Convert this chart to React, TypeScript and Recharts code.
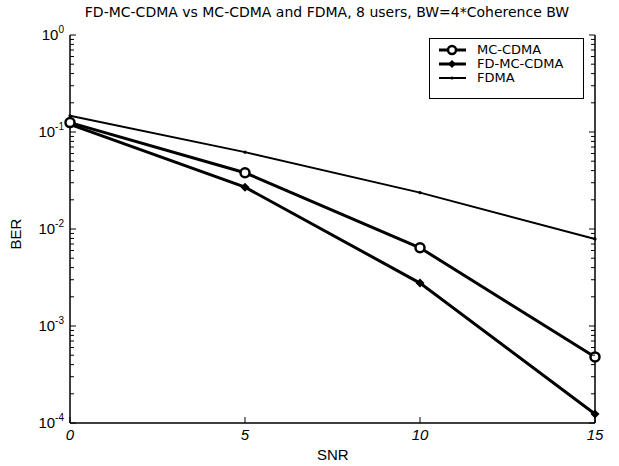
import { LineChart, Line, XAxis, YAxis } from "recharts"

const snr = [0, 5, 10, 15]
const mcCdma = [0.125, 0.038, 0.0064, 0.00048]
const fdMcCdma = [0.12, 0.027, 0.00277, 0.000124]
const fdma = [0.147, 0.062, 0.0237, 0.0079]

const xTicks = [0, 5, 10, 15]
const decadeExps = [-4, -3, -2, -1, 0]

const data = snr.map((s, i) => ({
  snr: s,
  mc: mcCdma[i],
  fd: fdMcCdma[i],
  fdma: fdma[i],
}))

// minor log ticks 2..9 inside each decade
const yTicks: number[] = []
decadeExps.forEach((e) => {
  if (e === 0) {
    yTicks.push(1)
    return
  }
  for (let m = 1; m < 10; m++) yTicks.push(Number((m * Math.pow(10, e)).toPrecision(3)))
})

const FONT = "'Liberation Sans', Arial, sans-serif"
const WIDE = "'DejaVu Sans', sans-serif"

const isDecade = (v: number) => decadeExps.some((e) => Math.abs(v - Math.pow(10, e)) < Math.pow(10, e) * 1e-6)

function LeftTick(props: any) {
  const { x, y, payload } = props
  const v = payload.value
  const major = isDecade(v)
  const exp = Math.round(Math.log10(v))
  return (
    <g>
      <line x1={x} y1={y} x2={x + (major ? 6 : 4)} y2={y} stroke="#000" strokeWidth={1} />
      {major && (
        <text x={x - 6} y={y + 5} textAnchor="end" fontFamily={FONT} fontSize={15} fill="#000">
          10
          <tspan dy={-7} fontSize={10}>{exp}</tspan>
        </text>
      )}
    </g>
  )
}

function RightTick(props: any) {
  const { x, y, payload } = props
  const major = isDecade(payload.value)
  return <line x1={x} y1={y} x2={x - (major ? 6 : 4)} y2={y} stroke="#000" strokeWidth={1} />
}

function BottomTick(props: any) {
  const { x, y, payload } = props
  return (
    <g>
      <line x1={x} y1={y} x2={x} y2={y - 6} stroke="#000" strokeWidth={1} />
      <text x={x} y={y + 17} textAnchor="middle" fontFamily={FONT} fontSize={15} fontStyle="italic" fill="#000">
        {payload.value}
      </text>
    </g>
  )
}

function TopTick(props: any) {
  const { x, y } = props
  return <line x1={x} y1={y} x2={x} y2={y + 6} stroke="#000" strokeWidth={1} />
}

function CircleDot(props: any) {
  const { cx, cy } = props
  return <circle cx={cx} cy={cy} r={4.5} fill="#fff" stroke="#000" strokeWidth={2.5} />
}

function DiamondDot(props: any) {
  const { cx, cy } = props
  const s = 4.5
  return <path d={`M${cx},${cy - s}L${cx + s},${cy}L${cx},${cy + s}L${cx - s},${cy}Z`} fill="#000" />
}

function SmallDot(props: any) {
  const { cx, cy } = props
  return <circle cx={cx} cy={cy} r={1.6} fill="#000" />
}

const legendItems = [
  { label: "MC-CDMA", width: 3, marker: "circle" },
  { label: "FD-MC-CDMA", width: 3, marker: "diamond" },
  { label: "FDMA", width: 2, marker: "dot" },
]

function LegendBox() {
  return (
    <div
      style={{
        position: "absolute",
        left: 429,
        top: 38,
        border: "1px solid #000",
        background: "#fff",
        width: 155,
        height: 61,
        boxSizing: "border-box",
        padding: "4px 0 0 8px",
      }}
    >
      {legendItems.map((it) => (
        <div
          key={it.label}
          style={{ display: "flex", alignItems: "center", height: 14, lineHeight: "14px", fontFamily: WIDE, fontSize: 13 }}
        >
          <svg width={30} height={12} style={{ marginRight: 9, flexShrink: 0 }}>
            <line x1={1} y1={6} x2={28} y2={6} stroke="#000" strokeWidth={it.width} />
            {it.marker === "circle" && <circle cx={14} cy={6} r={4} fill="#fff" stroke="#000" strokeWidth={2.5} />}
            {it.marker === "diamond" && <path d="M14,2L18,6L14,10L10,6Z" fill="#000" />}
            {it.marker === "dot" && <circle cx={14} cy={6} r={1.6} fill="#000" />}
          </svg>
          <span>{it.label}</span>
        </div>
      ))}
    </div>
  )
}

export default function App() {
  return (
    <div style={{ position: "absolute", left: 0, top: 0, width: 619, height: 466, background: "#fff" }}>
      <div
        style={{
          position: "absolute",
          left: 0,
          width: 654,
          top: 4,
          textAlign: "center",
          fontFamily: WIDE,
          fontSize: 14,
        }}
      >
        FD-MC-CDMA vs MC-CDMA and FDMA, 8 users, BW=4*Coherence BW
      </div>
      <div
        style={{
          position: "absolute",
          left: 0,
          top: 226,
          width: 30,
          textAlign: "center",
          transform: "rotate(-90deg)",
          fontFamily: FONT,
          fontSize: 15,
        }}
      >
        BER
      </div>
      <div
        style={{
          position: "absolute",
          left: 317,
          top: 446,
          fontFamily: FONT,
          fontSize: 15,
        }}
      >
        SNR
      </div>
      <LineChart width={619} height={466} data={data} margin={{ top: 35, right: 0, bottom: 0, left: 0 }}>
        <XAxis
          xAxisId="b"
          dataKey="snr"
          type="number"
          domain={[0, 15]}
          ticks={xTicks}
          height={43}
          tickSize={0}
          tickMargin={0}
          tickLine={false}
          axisLine={{ stroke: "#000", strokeWidth: 1.5 }}
          tick={BottomTick}
        />
        <XAxis
          xAxisId="t"
          dataKey="snr"
          type="number"
          domain={[0, 15]}
          ticks={xTicks}
          orientation="top"
          height={0}
          tickSize={0}
          tickMargin={0}
          tickLine={false}
          axisLine={{ stroke: "#000", strokeWidth: 1.5 }}
          tick={TopTick}
        />
        <YAxis
          yAxisId="l"
          scale="log"
          domain={[0.0001, 1]}
          allowDataOverflow
          ticks={yTicks}
          interval={0}
          width={70}
          tickSize={0}
          tickMargin={0}
          tickLine={false}
          axisLine={{ stroke: "#000", strokeWidth: 1.5 }}
          tick={LeftTick}
        />
        <YAxis
          yAxisId="r"
          orientation="right"
          scale="log"
          domain={[0.0001, 1]}
          allowDataOverflow
          ticks={yTicks}
          interval={0}
          width={24}
          tickSize={0}
          tickMargin={0}
          tickLine={false}
          axisLine={{ stroke: "#000", strokeWidth: 1.5 }}
          tick={RightTick}
        />
        <Line
          xAxisId="b"
          yAxisId="l"
          dataKey="fdma"
          name="FDMA"
          stroke="#000"
          strokeWidth={2}
          dot={SmallDot}
          isAnimationActive={false}
        />
        <Line
          xAxisId="b"
          yAxisId="l"
          dataKey="fd"
          name="FD-MC-CDMA"
          stroke="#000"
          strokeWidth={3}
          dot={DiamondDot}
          isAnimationActive={false}
        />
        <Line
          xAxisId="b"
          yAxisId="l"
          dataKey="mc"
          name="MC-CDMA"
          stroke="#000"
          strokeWidth={3}
          dot={CircleDot}
          isAnimationActive={false}
        />
      </LineChart>
      <LegendBox />
    </div>
  )
}
